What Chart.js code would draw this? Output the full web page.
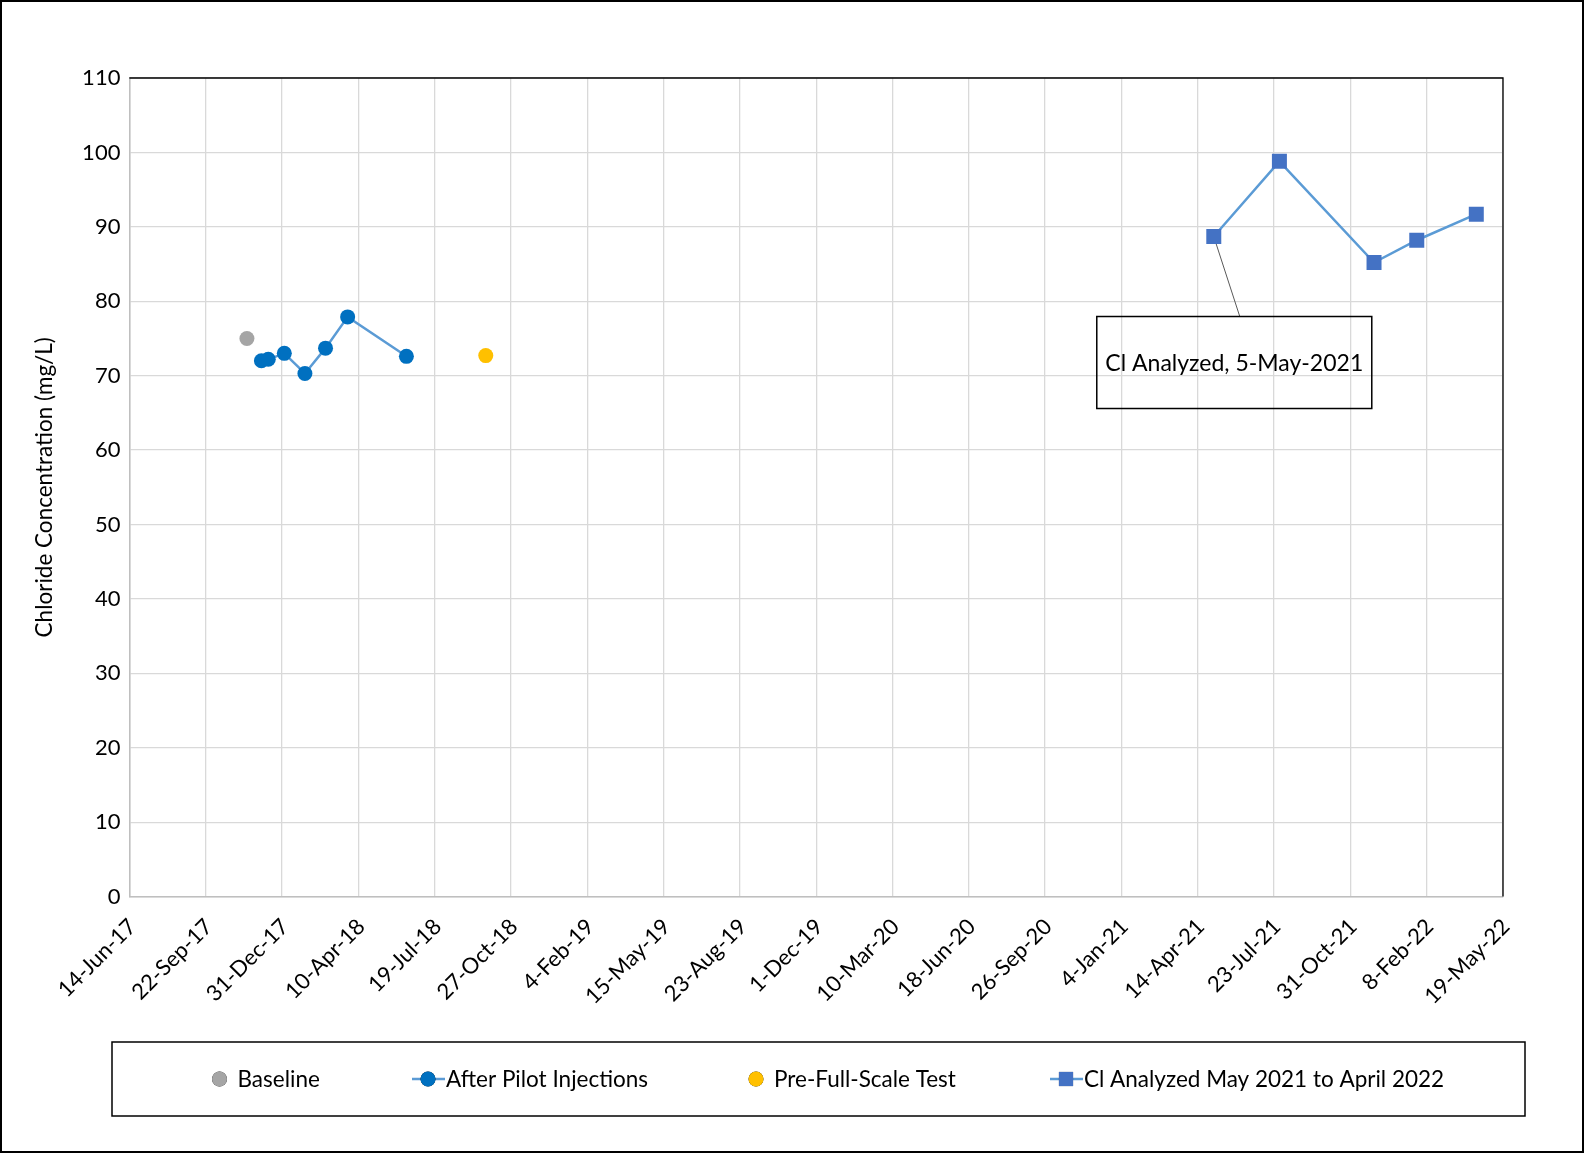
<!DOCTYPE html>
<html>
<head>
<meta charset="utf-8">
<title>Chloride Concentration</title>
<script src="https://cdn.jsdelivr.net/npm/chart.js@4.4.1/dist/chart.umd.min.js"></script>
<style>
  html, body { margin: 0; padding: 0; background: #fff; }
  #wrap { width: 1585px; height: 1155px; position: relative; }
</style>
</head>
<body>
<div id="wrap"><canvas id="chlorideChart"></canvas></div>
<script>
// x-axis tick labels (every 100 days)
var tickLabels = ['14-Jun-17', '22-Sep-17', '31-Dec-17', '10-Apr-18', '19-Jul-18', '27-Oct-18',
  '4-Feb-19', '15-May-19', '23-Aug-19', '1-Dec-19', '10-Mar-20', '18-Jun-20', '26-Sep-20',
  '4-Jan-21', '14-Apr-21', '23-Jul-21', '31-Oct-21', '8-Feb-22', '19-May-22'];

var seriesNames = ['Baseline', 'After Pilot Injections', 'Pre-Full-Scale Test', 'Cl Analyzed May 2021 to April 2022'];

var baselineDates = ['2017-11-15'];
var baselineValues = [75.0];

var pilotDates = ['2017-12-04', '2017-12-13', '2018-01-03', '2018-01-30', '2018-02-26', '2018-03-27', '2018-06-12'];
var pilotValues = [72.0, 72.2, 73.0, 70.3, 73.7, 77.9, 72.6];

var preTestDates = ['2018-09-24'];
var preTestValues = [72.7];

var clDates = ['2021-05-05', '2021-07-30', '2021-12-01', '2022-01-26', '2022-04-14'];
var clValues = [88.7, 98.8, 85.2, 88.2, 91.7];

var calloutText = 'Cl Analyzed, 5-May-2021';

var MONTHS = ['Jan', 'Feb', 'Mar', 'Apr', 'May', 'Jun', 'Jul', 'Aug', 'Sep', 'Oct', 'Nov', 'Dec'];

function isoToMs(s) {
  var p = s.split('-');
  return Date.UTC(+p[0], +p[1] - 1, +p[2]);
}
function labelToMs(s) {
  var p = s.split('-');
  return Date.UTC(2000 + (+p[2]), MONTHS.indexOf(p[1]), +p[0]);
}
function msToLabel(v) {
  var d = new Date(v);
  return d.getUTCDate() + '-' + MONTHS[d.getUTCMonth()] + '-' + String(d.getUTCFullYear()).slice(2);
}
function toPoints(dates, values) {
  return dates.map(function(d, i) { return { x: isoToMs(d), y: values[i] }; });
}

var tickValues = tickLabels.map(labelToMs);
var FONT = 'Lato, "Open Sans", sans-serif';

// black top/right edge of the plot area and the outer chart border
var framePlugin = {
  id: 'frame',
  beforeDatasetsDraw: function(chart) {
    var ctx = chart.ctx, a = chart.chartArea;
    ctx.save();
    ctx.strokeStyle = '#000';
    ctx.lineWidth = 1.3;
    ctx.beginPath();
    ctx.moveTo(a.left, a.top);
    ctx.lineTo(a.right, a.top);
    ctx.lineTo(a.right, a.bottom);
    ctx.stroke();

    // callout leader line (drawn under the marker)
    var pt = chart.getDatasetMeta(3).data[0];
    ctx.strokeStyle = '#595959';
    ctx.lineWidth = 1;
    ctx.beginPath();
    ctx.moveTo(pt.x, pt.y);
    ctx.lineTo(pt.x + 26, pt.y + 80);
    ctx.stroke();
    ctx.restore();
  },
  afterDraw: function(chart) {
    var ctx = chart.ctx;
    ctx.save();
    ctx.strokeStyle = '#000';
    ctx.lineWidth = 2;
    ctx.strokeRect(1, 1, chart.width - 3, chart.height - 4);
    ctx.restore();
  }
};

// text box for the first Cl sample
var calloutPlugin = {
  id: 'callout',
  afterDatasetsDraw: function(chart) {
    var ctx = chart.ctx;
    var pt = chart.getDatasetMeta(3).data[0];
    var bx = pt.x - 117, by = pt.y + 80, bw = 275, bh = 92;
    ctx.save();
    ctx.strokeStyle = '#000';
    ctx.lineWidth = 1.5;
    ctx.strokeRect(bx, by, bw, bh);
    ctx.fillStyle = '#000';
    ctx.font = '23px ' + FONT;
    ctx.textAlign = 'center';
    ctx.textBaseline = 'middle';
    ctx.fillText(calloutText, bx + bw / 2, by + bh / 2 + 1);
    ctx.restore();
  }
};

// Excel-style boxed legend at the bottom
var legendBoxPlugin = {
  id: 'legendBox',
  afterDraw: function(chart) {
    var ctx = chart.ctx;
    var box = { left: 112, top: 1042, right: 1525, bottom: 1116 };
    var cy = (box.top + box.bottom) / 2;
    var keyX = [219.5, 428, 756, 1066];
    ctx.save();
    ctx.strokeStyle = '#000';
    ctx.lineWidth = 1.5;
    ctx.strokeRect(box.left, box.top, box.right - box.left, box.bottom - box.top);
    chart.data.datasets.forEach(function(ds, i) {
      var x = keyX[i];
      if (ds.showLine) {
        ctx.strokeStyle = ds.borderColor;
        ctx.lineWidth = 2.5;
        ctx.beginPath();
        ctx.moveTo(x - 16, cy);
        ctx.lineTo(x + 17, cy);
        ctx.stroke();
      }
      Chart.helpers.drawPoint(ctx, {
        pointStyle: ds.pointStyle,
        radius: ds.pointStyle === 'rect' ? 10 : 7.5,
        rotation: 0,
        borderWidth: 0
      }, x, cy);
      ctx.fillStyle = ds.pointBackgroundColor;
      ctx.fill();
      ctx.fillStyle = '#000';
      ctx.font = '22.5px ' + FONT;
      ctx.textAlign = 'left';
      ctx.textBaseline = 'middle';
      ctx.fillText(ds.label, x + 18, cy + 1);
    });
    ctx.restore();
  }
};

var ctx = document.getElementById('chlorideChart').getContext('2d');
new Chart(ctx, {
  type: 'scatter',
  data: {
    datasets: [
      {
        label: seriesNames[0],
        data: toPoints(baselineDates, baselineValues),
        showLine: false,
        pointStyle: 'circle',
        pointRadius: 7.5,
        pointBackgroundColor: '#a5a5a5',
        pointBorderWidth: 0,
        borderColor: '#a5a5a5'
      },
      {
        label: seriesNames[1],
        data: toPoints(pilotDates, pilotValues),
        showLine: true,
        borderColor: '#5b9bd5',
        borderWidth: 2.5,
        pointStyle: 'circle',
        pointRadius: 7.5,
        pointBackgroundColor: '#0070c0',
        pointBorderWidth: 0
      },
      {
        label: seriesNames[2],
        data: toPoints(preTestDates, preTestValues),
        showLine: false,
        pointStyle: 'circle',
        pointRadius: 7.5,
        pointBackgroundColor: '#ffc000',
        pointBorderWidth: 0,
        borderColor: '#ffc000'
      },
      {
        label: seriesNames[3],
        data: toPoints(clDates, clValues),
        showLine: true,
        borderColor: '#5b9bd5',
        borderWidth: 2.5,
        pointStyle: 'rect',
        pointRadius: 10.6,
        pointBackgroundColor: '#4472c4',
        pointBorderWidth: 0
      }
    ]
  },
  options: {
    responsive: true,
    maintainAspectRatio: false,
    animation: false,
    layout: {
      padding: { left: 0, right: 82, top: 78, bottom: 0 }
    },
    plugins: {
      legend: { display: false },
      tooltip: { enabled: false }
    },
    scales: {
      x: {
        type: 'linear',
        min: tickValues[0],
        max: tickValues[tickValues.length - 1],
        afterBuildTicks: function(scale) {
          scale.ticks = tickValues.map(function(v) { return { value: v }; });
        },
        afterFit: function(scale) {
          scale.height = 258.4;
        },
        grid: { color: '#d9d9d9', lineWidth: 1.3, drawTicks: false },
        border: { color: '#bfbfbf', width: 1.5 },
        ticks: {
          autoSkip: false,
          maxRotation: 45,
          minRotation: 45,
          padding: 17,
          labelOffset: 3,
          color: '#000',
          font: { family: FONT, size: 22 },
          callback: function(v) { return msToLabel(v); }
        }
      },
      y: {
        min: 0,
        max: 110,
        afterFit: function(scale) {
          scale.width = 129.4;
        },
        grid: { color: '#d9d9d9', lineWidth: 1.3, drawTicks: false },
        border: { color: '#bfbfbf', width: 1.5 },
        ticks: {
          stepSize: 10,
          padding: 9,
          color: '#000',
          font: { family: FONT, size: 22 }
        },
        title: {
          display: true,
          text: 'Chloride Concentration (mg/L)',
          color: '#000',
          padding: { top: 31, bottom: 0 },
          font: { family: FONT, size: 22.5 }
        }
      }
    }
  },
  plugins: [framePlugin, calloutPlugin, legendBoxPlugin]
});
</script>
</body>
</html>
